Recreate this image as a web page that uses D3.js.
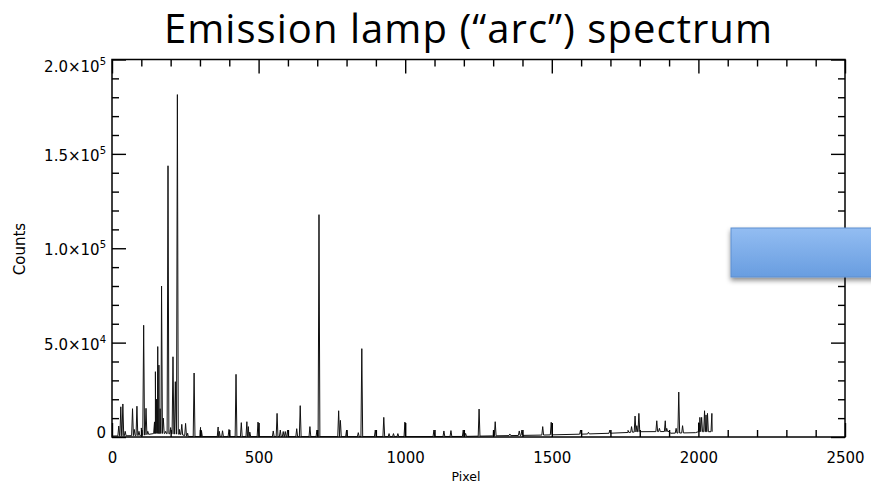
<!DOCTYPE html>
<html>
<head>
<meta charset="utf-8">
<script src="https://cdn.jsdelivr.net/npm/d3@7"></script>
<style>
  html, body { margin: 0; padding: 0; background: #fff; }
  svg { display: block; }
</style>
</head>
<body>
<svg id="chart" width="871" height="489"></svg>
<script>
// Arc lamp emission lines: detector pixel and peak counts
const peakPixel = [
  23, 30, 37, 45, 70, 76, 85, 92, 100, 108, 116, 122,
  145, 148, 152, 156, 160, 164, 169, 175, 183, 191, 200, 208, 216, 223, 230, 238, 251, 258,
  280, 302, 305, 362, 366, 377, 399, 423, 441, 460, 465, 470, 498,
  550, 563, 574, 584, 591, 599, 630, 642, 675, 699, 706,
  773, 779, 800, 840, 852, 898, 927, 945, 960, 975, 999,
  1098, 1132, 1156, 1198, 1206, 1252, 1301, 1307, 1357, 1389, 1398, 1469, 1498,
  1598, 1625, 1698, 1760, 1772, 1784, 1790, 1797, 1858, 1867, 1887, 1892,
  1924, 1933, 1946, 2001, 2005, 2011, 2021, 2026, 2031, 2046
];
const peakCounts = [
  5800, 16000, 17500, 3000, 15000, 4000, 16300, 3000, 4800, 59200, 15200, 3000,
  8000, 34600, 20000, 47900, 38100, 15000, 80000, 10000, 3000, 143700, 5000, 42500, 29300, 181400, 4000, 6700, 7200, 2000,
  33900, 5100, 3500, 5300, 3000, 3300, 4000, 33200, 7600, 8100, 5500, 2600, 7900,
  3200, 12500, 3700, 2900, 2900, 3700, 4400, 16600, 5500, 3700, 117800,
  13900, 8800, 3700, 2300, 46800, 3700, 10400, 1800, 1800, 1800, 7900,
  3700, 3200, 3400, 3700, 1900, 14800, 3700, 8100, 1600, 3200, 3700, 5500, 7800,
  3700, 2500, 3700, 3500, 5500, 11100, 6000, 12500, 8600, 4600, 8600, 4600,
  4600, 23800, 6000, 7600, 10400, 10400, 13900, 11700, 12500, 12500
];
// Underlying continuum between the lines
const continuumPixel  = [0,   100, 150,  230,  260, 300, 1000, 1200, 1300, 1460, 1600, 1700, 1760, 1800, 1900, 1905, 1990, 2000, 2047];
const continuumCounts = [500, 800, 2000, 1500, 300, 200, 200,  300,  600,  1000, 1500, 2000, 2400, 2800, 2900, 2000, 2300, 2800, 2800];

const xMajorTicks = [0, 500, 1000, 1500, 2000, 2500];
const yMajorTicks = [0, 50000, 100000, 150000, 200000];
const yTickLabels = [["0", ""], ["5.0×10", "4"], ["1.0×10", "5"], ["1.5×10", "5"], ["2.0×10", "5"]];

const titleText = "Emission lamp (\u201Carc\u201D) spectrum";
const xTitle = "Pixel";
const yTitle = "Counts";

const svg = d3.select("#chart");
const L = 112, R = 845, T = 59.5, B = 437;
const x = d3.scaleLinear().domain([0, 2500]).range([L, R]);
const y = d3.scaleLinear().domain([0, 200000]).range([B, T]);

const axisFont = "'DejaVu Sans', 'Liberation Sans', sans-serif";

// ---- spectrum trace ----
const base = d3.scaleLinear().domain(continuumPixel).range(continuumCounts).clamp(true);
const hw = 3;
let pts = continuumPixel.map((p, i) => [p, continuumCounts[i]]);
peakPixel.forEach((p, i) => {
  pts.push([p - hw, base(p - hw)]);
  pts.push([p, peakCounts[i]]);
  pts.push([p + hw, base(p + hw)]);
});
pts = pts.filter(d => d[0] >= 0 && d[0] <= 2047).sort((a, b) => a[0] - b[0]);

svg.append("defs").append("clipPath").attr("id", "plotclip")
  .append("rect").attr("x", L).attr("y", T).attr("width", R - L).attr("height", B - T);

svg.append("path")
  .datum(pts)
  .attr("clip-path", "url(#plotclip)")
  .attr("fill", "none")
  .attr("stroke", "#111")
  .attr("stroke-width", 1)
  .attr("stroke-linejoin", "miter")
  .attr("d", d3.line().x(d => x(d[0])).y(d => y(d[1])));

// ---- axes (ticks point inward on all four sides) ----
const xMinor = d3.range(0, 2501, 100).filter(v => v % 500 !== 0);
const yMinor = d3.range(0, 200001, 10000).filter(v => v % 50000 !== 0);

function styleAxis(g) {
  g.select(".domain").remove();
  g.selectAll("line").attr("stroke", "#000").attr("stroke-width", 1.4);
}

// bottom
svg.append("g").attr("transform", `translate(0,${B})`)
  .call(d3.axisBottom(x).tickValues(xMajorTicks).tickSize(-14).tickFormat(d3.format("d")))
  .call(styleAxis)
  .call(g => g.selectAll("text").attr("y", 26).attr("dy", 0)
    .attr("font-family", axisFont).attr("font-size", 15).attr("fill", "#000"));
svg.append("g").attr("transform", `translate(0,${B})`)
  .call(d3.axisBottom(x).tickValues(xMinor).tickSize(-7).tickFormat(""))
  .call(styleAxis);
// top
svg.append("g").attr("transform", `translate(0,${T})`)
  .call(d3.axisTop(x).tickValues(xMajorTicks).tickSize(-14).tickFormat(""))
  .call(styleAxis);
svg.append("g").attr("transform", `translate(0,${T})`)
  .call(d3.axisTop(x).tickValues(xMinor).tickSize(-7).tickFormat(""))
  .call(styleAxis);
// left
svg.append("g").attr("transform", `translate(${L},0)`)
  .call(d3.axisLeft(y).tickValues(yMinor).tickSize(-7).tickFormat(""))
  .call(styleAxis);
svg.append("g").attr("transform", `translate(${L},0)`)
  .call(d3.axisLeft(y).tickValues(yMajorTicks).tickSize(-14).tickFormat(""))
  .call(styleAxis);
// right
svg.append("g").attr("transform", `translate(${R},0)`)
  .call(d3.axisRight(y).tickValues(yMinor).tickSize(-7).tickFormat(""))
  .call(styleAxis);
svg.append("g").attr("transform", `translate(${R},0)`)
  .call(d3.axisRight(y).tickValues(yMajorTicks).tickSize(-14).tickFormat(""))
  .call(styleAxis);

// frame
svg.append("rect").attr("x", L).attr("y", T).attr("width", R - L).attr("height", B - T)
  .attr("fill", "none").attr("stroke", "#000").attr("stroke-width", 1.5);

// y tick labels with exponent superscripts
const yLab = svg.append("g").attr("font-family", axisFont).attr("fill", "#000");
yMajorTicks.forEach((v, i) => {
  let off = 7;
  if (i === 0) off = 1;
  if (i === yMajorTicks.length - 1) off = 12.8;
  const t = yLab.append("text")
    .attr("x", 106).attr("y", y(v) + off)
    .attr("text-anchor", "end").attr("font-size", 15);
  t.append("tspan").text(yTickLabels[i][0]);
  if (yTickLabels[i][1]) {
    t.append("tspan").attr("font-size", 10).attr("dy", -7).text(yTickLabels[i][1]);
  }
});

// axis titles
svg.append("text").attr("x", 466).attr("y", 481).attr("text-anchor", "middle")
  .attr("font-family", axisFont).attr("font-size", 12.5).attr("fill", "#000").text(xTitle);
svg.append("text").attr("transform", "translate(25,249) rotate(-90)").attr("text-anchor", "middle")
  .attr("font-family", axisFont).attr("font-size", 15).attr("fill", "#000").text(yTitle);

// title, sized to span the top
const title = svg.append("text").attr("x", 468).attr("y", 43).attr("text-anchor", "middle")
  .attr("font-family", "'Open Sans', Lato, sans-serif").attr("font-size", 34).attr("fill", "#000")
  .text(titleText);
const tw = title.node().getComputedTextLength();
const fs = Math.min(40, 34 * 605 / tw);
title.attr("font-size", fs);
const tw2 = title.node().getComputedTextLength();
const ls = Math.max(0, (608 - tw2) / (titleText.length - 1));
title.attr("letter-spacing", ls).attr("x", 468 + ls / 2);

// callout box on the right
const defs = svg.select("defs");
const grad = defs.append("linearGradient").attr("id", "boxfill").attr("x1", 0).attr("y1", 0).attr("x2", 0).attr("y2", 1);
grad.append("stop").attr("offset", "0%").attr("stop-color", "#93BDF2");
grad.append("stop").attr("offset", "100%").attr("stop-color", "#689DE0");
const f = defs.append("filter").attr("id", "shadow").attr("x", "-10%").attr("y", "-30%").attr("width", "130%").attr("height", "170%");
f.append("feDropShadow").attr("dx", 0).attr("dy", 3).attr("stdDeviation", 2.5)
  .attr("flood-color", "#000").attr("flood-opacity", 0.45);
svg.append("rect").attr("x", 731).attr("y", 228).attr("width", 160).attr("height", 49)
  .attr("fill", "url(#boxfill)").attr("stroke", "#5F8FCF").attr("stroke-width", 1)
  .attr("filter", "url(#shadow)");
</script>
</body>
</html>
